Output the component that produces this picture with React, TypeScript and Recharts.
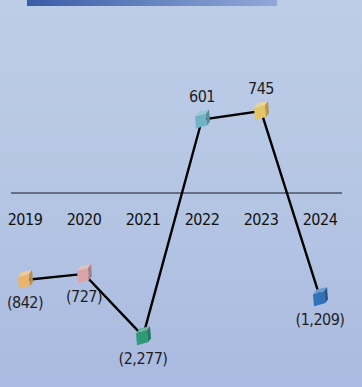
import React from 'react';
import { LineChart, Line, XAxis, YAxis, ReferenceLine, LabelList } from 'recharts';

const years = ['2019', '2020', '2021', '2022', '2023', '2024'];
const values = [-842, -727, -2277, 601, 745, -1209];
const markerColors = ['#e8b46e', '#d9a3a8', '#2f9a78', '#6fb3c4', '#e3c468', '#2f72b8'];

const data = years.map((year, i) => ({ year, value: values[i], color: markerColors[i] }));

const W = 362;
const H = 387;
const M = { top: 43, right: 20, bottom: 0, left: 11 };
const XAXIS_H = 44;
const DOMAIN: [number, number] = [-2500, 2500];
const FONT = '"DejaVu Sans Condensed", "DejaVu Sans", sans-serif';

const plotTop = M.top;
const plotBottom = H - M.bottom - XAXIS_H;
const sq = (v: number) => (v < 0 ? -Math.sqrt(-v) : Math.sqrt(v));
const zeroY =
  plotTop + ((sq(DOMAIN[1]) - sq(0)) / (sq(DOMAIN[1]) - sq(DOMAIN[0]))) * (plotBottom - plotTop);

function shade(hex: string, f: number) {
  const n = parseInt(hex.slice(1), 16);
  let r = (n >> 16) & 255, g = (n >> 8) & 255, b = n & 255;
  const adj = (c: number) => Math.max(0, Math.min(255, Math.round(f >= 0 ? c + (255 - c) * f : c * (1 + f))));
  r = adj(r); g = adj(g); b = adj(b);
  return `rgb(${r},${g},${b})`;
}

const Cube = (props: any) => {
  const { cx, cy, payload } = props;
  if (cx == null || cy == null) return null;
  const c = payload.color;
  const front = `${cx - 7},${cy - 3} ${cx + 4},${cy - 6} ${cx + 5},${cy + 6} ${cx - 6},${cy + 9}`;
  const top = `${cx - 7},${cy - 3} ${cx - 3},${cy - 8} ${cx + 7},${cy - 10} ${cx + 4},${cy - 6}`;
  const side = `${cx + 4},${cy - 6} ${cx + 7},${cy - 10} ${cx + 8},${cy + 2} ${cx + 5},${cy + 6}`;
  return (
    <g>
      <polygon points={front} fill={c} />
      <polygon points={top} fill={shade(c, 0.3)} />
      <polygon points={side} fill={shade(c, -0.22)} />
    </g>
  );
};

const fmt = (v: number) => (v < 0 ? `(${Math.abs(v).toLocaleString('en-US')})` : v.toLocaleString('en-US'));

const ValueLabel = (props: any) => {
  const { x, y, value } = props;
  const above = value >= 0;
  return (
    <text
      x={x}
      y={above ? y - 17 : y + 28}
      textAnchor="middle"
      fontFamily={FONT}
      fontSize={16}
      letterSpacing={-0.5}
      fill="#1e1e1e"
    >
      {fmt(value)}
    </text>
  );
};

const YearTick = (props: any) => {
  const { x, payload } = props;
  return (
    <text
      x={x}
      y={zeroY + 32}
      textAnchor="middle"
      fontFamily={FONT}
      fontSize={16}
      letterSpacing={-0.5}
      fill="#111"
    >
      {payload.value}
    </text>
  );
};

export default function App() {
  return (
    <div
      style={{
        position: 'absolute',
        left: 0,
        top: 0,
        width: W,
        height: H,
        background: 'linear-gradient(180deg, #bdcde8 0%, #b5c6e4 50%, #aabae0 100%)',
        overflow: 'hidden',
      }}
    >
      <div
        style={{
          position: 'absolute',
          left: 27,
          top: 0,
          width: 250,
          height: 6,
          background: 'linear-gradient(90deg, #3b5ba8 0%, #6684c0 50%, #91a9d8 100%)',
        }}
      />
      <LineChart width={W} height={H} data={data} margin={M}>
        <XAxis
          dataKey="year"
          axisLine={false}
          tickLine={false}
          height={XAXIS_H}
          padding={{ left: 14, right: 22 }}
          tick={<YearTick />}
          interval={0}
        />
        <YAxis hide domain={DOMAIN} type="number" scale="sqrt" />
        <ReferenceLine y={0} stroke="#4a5260" strokeWidth={1.5} />
        <Line
          dataKey="value"
          stroke="#000"
          strokeWidth={2.4}
          dot={<Cube />}
          activeDot={false}
          isAnimationActive={false}
        >
          <LabelList dataKey="value" content={<ValueLabel />} />
        </Line>
      </LineChart>
    </div>
  );
}
